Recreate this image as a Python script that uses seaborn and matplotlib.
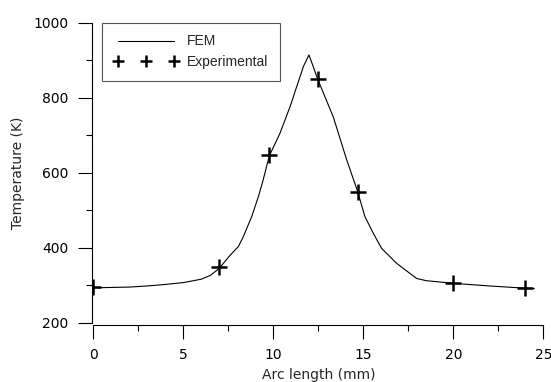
import matplotlib
matplotlib.use("Agg")
import matplotlib.pyplot as plt
import seaborn as sns
import pandas as pd
from matplotlib.lines import Line2D
from matplotlib.ticker import MultipleLocator

# FEM curve (arc length mm, temperature K)
fem_x = [0.0, 1.0, 2.0, 3.0, 4.0, 5.0, 6.0, 6.5, 7.0, 7.6, 8.06, 8.33, 8.8, 9.17,
         9.41, 9.78, 10.37, 10.93, 11.67, 11.98, 12.22, 12.46, 13.33, 14.08, 14.67,
         15.09, 15.56, 16.02, 16.86, 17.96, 18.5, 20.0, 22.0, 24.0, 24.5]
fem_t = [293, 294, 295, 298, 302, 307, 316, 326, 345, 380, 403, 429, 483, 536,
         576, 645, 705, 776, 883, 914, 883, 850, 749, 634, 552,
         483, 438, 398, 358, 318, 312, 305, 298, 292, 291]

# Experimental points
exp_x = [0.0, 7.0, 9.78, 12.46, 14.69, 20.0, 24.0]
exp_t = [296, 348, 647, 850, 549, 305, 292]

x_ticks = [0, 5, 10, 15, 20, 25]
y_ticks = [200, 400, 600, 800, 1000]

sns.set_style("ticks")
plt.rcParams['font.family'] = ['DejaVu Sans']

W, H = 551, 382
fig = plt.figure(figsize=(W / 100, H / 100), dpi=100)
ax = fig.add_axes([93.3 / W, (H - 322.7) / H, 450 / W, 300 / H])

fem = pd.DataFrame({"x": fem_x, "t": fem_t})
exp = pd.DataFrame({"x": exp_x, "t": exp_t})

sns.lineplot(data=fem, x="x", y="t", ax=ax, color="black", linewidth=0.8,
             sort=False, legend=False)
sns.scatterplot(data=exp, x="x", y="t", ax=ax, marker="+", s=135,
                color="black", linewidth=1.8, legend=False, zorder=3)

ax.set_xlim(0, 25)
ax.set_ylim(200, 1000)
ax.set_xticks(x_ticks)
ax.set_yticks(y_ticks)
ax.xaxis.set_minor_locator(MultipleLocator(2.5))
ax.yaxis.set_minor_locator(MultipleLocator(100))

for s in ["top", "right"]:
    ax.spines[s].set_visible(False)
ax.spines["left"].set_position(("outward", 1.2))
ax.spines["bottom"].set_position(("outward", 2.0))
for s in ["left", "bottom"]:
    ax.spines[s].set_linewidth(0.8)
    ax.spines[s].set_color("black")

ax.tick_params(which="major", direction="out", length=10, width=0.8,
               color="black", labelsize=10, labelcolor="black")
ax.tick_params(axis="y", which="major", pad=6.5)
ax.tick_params(axis="x", which="major", pad=6.5)
ax.tick_params(which="minor", direction="out", length=4.5, width=0.8, color="black")

ax.set_xlabel("Arc length (mm)", fontsize=10, labelpad=4)
ax.set_ylabel("Temperature (K)", fontsize=10, labelpad=6)

handles = [
    Line2D([], [], color="black", linewidth=0.8, label="FEM"),
    Line2D([], [], color="black", linestyle="none", marker="+", markersize=9,
           markeredgewidth=1.8, label="Experimental"),
]
leg = ax.legend(handles=handles, loc="upper left",
                bbox_to_anchor=(102.3 / W, (H - 22.7) / H),
                bbox_transform=fig.transFigure, borderaxespad=0,
                numpoints=3, handlelength=4.6, handletextpad=0.68,
                labelspacing=0.5, borderpad=0.84,
                prop={"family": "Liberation Sans", "size": 10},
                fancybox=False, framealpha=1, edgecolor="#555555")
leg.get_frame().set_linewidth(0.8)

fig.savefig("out.png", dpi=100)
